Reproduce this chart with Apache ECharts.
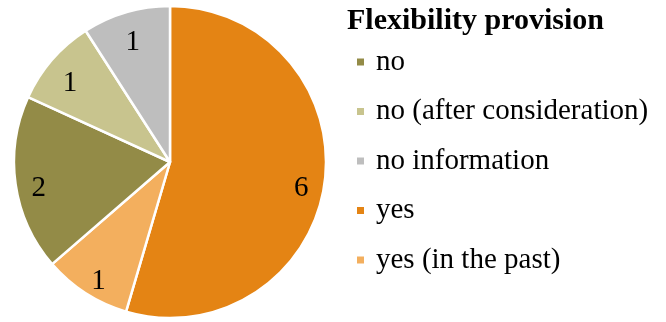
<!DOCTYPE html>
<html>
<head>
<meta charset="utf-8">
<script src="https://cdn.jsdelivr.net/npm/echarts@6/dist/echarts.min.js"></script>
<style>
  html, body { margin: 0; padding: 0; background: #fff; }
  #chart { width: 666px; height: 322px; }
</style>
</head>
<body>
<div id="chart"></div>
<script>
// Flexibility provision: number of cases per answer
const sliceNames = ['yes', 'yes (in the past)', 'no', 'no (after consideration)', 'no information'];
const sliceValues = [6, 1, 2, 1, 1];
const sliceColors = ['#E48414', '#F3AF5E', '#938B47', '#C8C48E', '#BEBEBE'];
const legendOrder = ['no', 'no (after consideration)', 'no information', 'yes', 'yes (in the past)'];
const legendTitle = 'Flexibility provision';

const serif = '"Liberation Serif", "Times New Roman", serif';
const center = [170, 162];
const outerR = 156;

const pieData = sliceNames.map((name, i) => ({
  name: name,
  value: sliceValues[i],
  itemStyle: { color: sliceColors[i] }
}));

const chart = echarts.init(document.getElementById('chart'), null, { renderer: 'canvas' });
chart.setOption({
  animation: false,
  backgroundColor: '#ffffff',
  title: {
    text: legendTitle,
    left: 347,
    top: 4,
    padding: 0,
    textStyle: { fontFamily: serif, fontWeight: 'bold', fontSize: 30, color: '#000', lineHeight: 34 }
  },
  legend: {
    orient: 'vertical',
    left: 355,
    top: 46,
    padding: 0,
    data: legendOrder,
    icon: 'rect',
    itemWidth: 9,
    itemHeight: 9,
    itemGap: 17.5,
    selectedMode: false,
    textStyle: { fontFamily: serif, fontSize: 29, color: '#000', lineHeight: 32, padding: [0, 0, 0, 6] }
  },
  series: [
    {
      type: 'pie',
      center: center,
      radius: [0, outerR],
      startAngle: 90,
      clockwise: true,
      silent: true,
      label: { show: false },
      labelLine: { show: false },
      itemStyle: { borderColor: '#ffffff', borderWidth: 2.5 },
      data: pieData
    },
    {
      // transparent ring that carries the value labels near the rim
      type: 'pie',
      center: center,
      radius: [outerR * 0.66, outerR],
      startAngle: 90,
      clockwise: true,
      silent: true,
      legendHoverLink: false,
      itemStyle: { color: 'rgba(0,0,0,0)', borderWidth: 0 },
      label: {
        show: true,
        position: 'inside',
        formatter: '{c}',
        fontFamily: serif,
        fontSize: 29,
        color: '#000',
        offset: [0, 8]
      },
      labelLine: { show: false },
      data: sliceNames.map((name, i) => ({ name: name, value: sliceValues[i], itemStyle: { color: 'rgba(0,0,0,0)' } }))
    }
  ]
});
</script>
</body>
</html>
